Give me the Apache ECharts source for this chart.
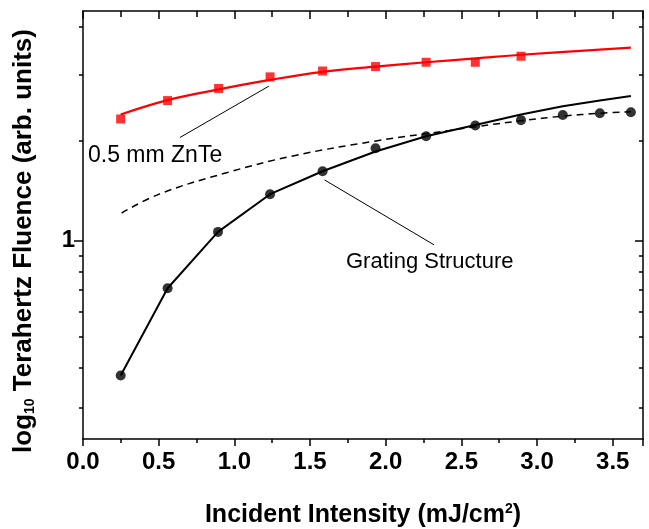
<!DOCTYPE html>
<html>
<head>
<meta charset="utf-8">
<script src="https://cdn.jsdelivr.net/npm/echarts@6/dist/echarts.min.js"></script>
<style>
  html, body { margin: 0; padding: 0; background: #fff; }
  #chart { width: 649px; height: 529px; }
</style>
</head>
<body>
<div id="chart"></div>
<script>
const xZnTe = [0.249, 0.559, 0.896, 1.236, 1.583, 1.933, 2.267, 2.592, 2.894];
const yZnTe = [2.40, 2.74, 2.99, 3.25, 3.39, 3.50, 3.61, 3.61, 3.77];
// courbe rouge (ajustement)
const xZnTeFit = [0.249, 0.559, 0.896, 1.236, 1.583, 1.933, 2.267, 2.592, 2.894, 3.62];
const yZnTeFit = [2.48, 2.75, 2.97, 3.18, 3.37, 3.50, 3.61, 3.71, 3.81, 4.01];

const xGrating = [0.249, 0.559, 0.892, 1.236, 1.583, 1.933, 2.267, 2.592, 2.894, 3.17, 3.415, 3.62];
const yGrating = [0.379, 0.71, 1.065, 1.397, 1.648, 1.945, 2.12, 2.29, 2.38, 2.47, 2.50, 2.52];
// trait plein noir
const xGratingFit = [0.249, 0.559, 0.892, 1.236, 1.583, 1.933, 2.267, 2.592, 2.894, 3.17, 3.415, 3.62];
const yGratingFit = [0.379, 0.71, 1.065, 1.397, 1.648, 1.90, 2.12, 2.30, 2.48, 2.63, 2.74, 2.83];
// pointillés
const xDashed = [0.255, 0.507, 0.948, 1.387, 1.937, 2.42, 2.592, 2.894, 3.17, 3.415, 3.62];
const yDashed = [1.22, 1.40, 1.63, 1.84, 2.05, 2.21, 2.27, 2.37, 2.45, 2.50, 2.53];

// traits des annotations
const leaderZnTe = [[0.64, 2.10], [1.228, 3.04]];
const leaderGrating = [[1.596, 1.548], [2.32, 0.97]];

const yMajorTicks = [1];
const yMinorTicks = [0.3, 0.4, 0.5, 0.6, 0.7, 0.8, 0.9, 2.05, 3.3, 4.65];
const yMin = 0.24, yMax = 5.22;

const FONT = "'Liberation Sans', Arial, sans-serif";

function pairs(xs, ys) {
	return xs.map((x, i) => [x, ys[i]]);
}

const lineCol = { color: "#000", width: 1.5 };

function yAx(position, ticks, len, inside, showLine, extra) {
	return Object.assign({
		type: "log",
		position: position,
		min: yMin,
		max: yMax,
		axisLine: { show: showLine, onZero: false, lineStyle: lineCol },
		axisTick: { show: true, inside: inside, length: len, customValues: ticks, lineStyle: { color: "#000", width: 1.5 } },
		axisLabel: { show: false },
		splitLine: { show: false },
		minorTick: { show: false },
	}, extra || {});
}

const chart = echarts.init(document.getElementById("chart"));
chart.setOption({
	animation: false,
	backgroundColor: "#fff",
	grid: { left: 83, right: 6, top: 11, bottom: 90, outerBoundsMode: "none", containLabel: false },
	xAxis: [
		{
			type: "value",
			position: "bottom",
			min: 0,
			max: 3.7,
			interval: 0.5,
			axisLine: { onZero: false, lineStyle: lineCol },
			axisTick: { inside: false, length: 7, lineStyle: { color: "#000", width: 1.5 } },
			minorTick: { show: true, splitNumber: 2, length: 4, lineStyle: { color: "#000", width: 1.5 } },
			axisLabel: {
				color: "#000",
				fontFamily: FONT,
				fontWeight: "bold",
				fontSize: 24,
				margin: 11,
				showMaxLabel: false,
				formatter: (v) => v.toFixed(1),
			},
			splitLine: { show: false },
			name: "{t|Incident Intensity (mJ/cm}{s|2}{t|)}",
			nameLocation: "middle",
			nameGap: 63,
			nameTextStyle: {
				rich: {
					t: { fontFamily: FONT, fontWeight: "bold", fontSize: 25, color: "#000" },
					s: { fontFamily: FONT, fontWeight: "bold", fontSize: 14, color: "#000", verticalAlign: "top", padding: [0, 0, 12, 0] },
				},
			},
		},
		{
			type: "value",
			position: "top",
			min: 0,
			max: 3.7,
			interval: 0.5,
			axisLine: { onZero: false, lineStyle: lineCol },
			axisTick: { inside: true, length: 8, lineStyle: { color: "#000", width: 1.5 } },
			minorTick: { show: true, splitNumber: 2, length: 6, lineStyle: { color: "#000", width: 1.5 } },
			axisLabel: { show: false },
			splitLine: { show: false },
		},
	],
	yAxis: [
		yAx("left", yMajorTicks, 9, false, true, {
			axisLabel: {
				show: true,
				customValues: [1],
				color: "#000",
				fontFamily: FONT,
				fontWeight: "bold",
				fontSize: 24,
				margin: 8,
				formatter: (v) => String(Math.round(v)),
			},
			name: "{t|log}{s|10}{t| Terahertz Fluence (arb. units)}",
			nameLocation: "middle",
			nameGap: 46,
			nameRotate: 90,
			nameTextStyle: {
				padding: [0, 32, 0, 0],
				rich: {
					t: { fontFamily: FONT, fontWeight: "bold", fontSize: 26, color: "#000" },
					s: { fontFamily: FONT, fontWeight: "bold", fontSize: 14, color: "#000", verticalAlign: "bottom", padding: [12, 0, 0, 0] },
				},
			},
		}),
		yAx("left", yMinorTicks, 4, false, false),
		yAx("right", yMajorTicks, 8, true, true),
		yAx("right", yMinorTicks, 4, true, false),
	],
	graphic: [
		{
			type: "text",
			left: 88,
			top: 144,
			style: { text: "0.5 mm ZnTe", font: "23px " + FONT, fill: "#000" },
		},
		{
			type: "text",
			left: 346,
			top: 251,
			style: { text: "Grating Structure", font: "22px " + FONT, fill: "#000" },
		},
	],
	series: [
		{
			name: "leaderZnTe",
			type: "line",
			data: leaderZnTe,
			symbol: "none",
			silent: true,
			lineStyle: { color: "#000", width: 1 },
		},
		{
			name: "leaderGrating",
			type: "line",
			data: leaderGrating,
			symbol: "none",
			silent: true,
			lineStyle: { color: "#000", width: 1 },
		},
		{
			name: "Ajustement ZnTe",
			type: "line",
			data: pairs(xZnTeFit, yZnTeFit),
			smooth: 0.4,
			symbol: "none",
			lineStyle: { color: "#ff0000", width: 2.2 },
		},
		{
			name: "0.5 mm ZnTe",
			type: "scatter",
			data: pairs(xZnTe, yZnTe),
			symbol: "rect",
			symbolSize: 9,
			itemStyle: { color: "#ff0000" },
		},
		{
			name: "Pointillés",
			type: "line",
			data: pairs(xDashed, yDashed),
			smooth: 0.4,
			symbol: "none",
			lineStyle: { color: "#000", width: 1.5, type: [7, 5] },
		},
		{
			name: "Ajustement réseau",
			type: "line",
			data: pairs(xGratingFit, yGratingFit),
			symbol: "none",
			lineStyle: { color: "#000", width: 2 },
		},
		{
			name: "Grating Structure",
			type: "scatter",
			data: pairs(xGrating, yGrating),
			symbol: "circle",
			symbolSize: 10,
			itemStyle: { color: "#000" },
		},
	],
});
</script>
</body>
</html>
